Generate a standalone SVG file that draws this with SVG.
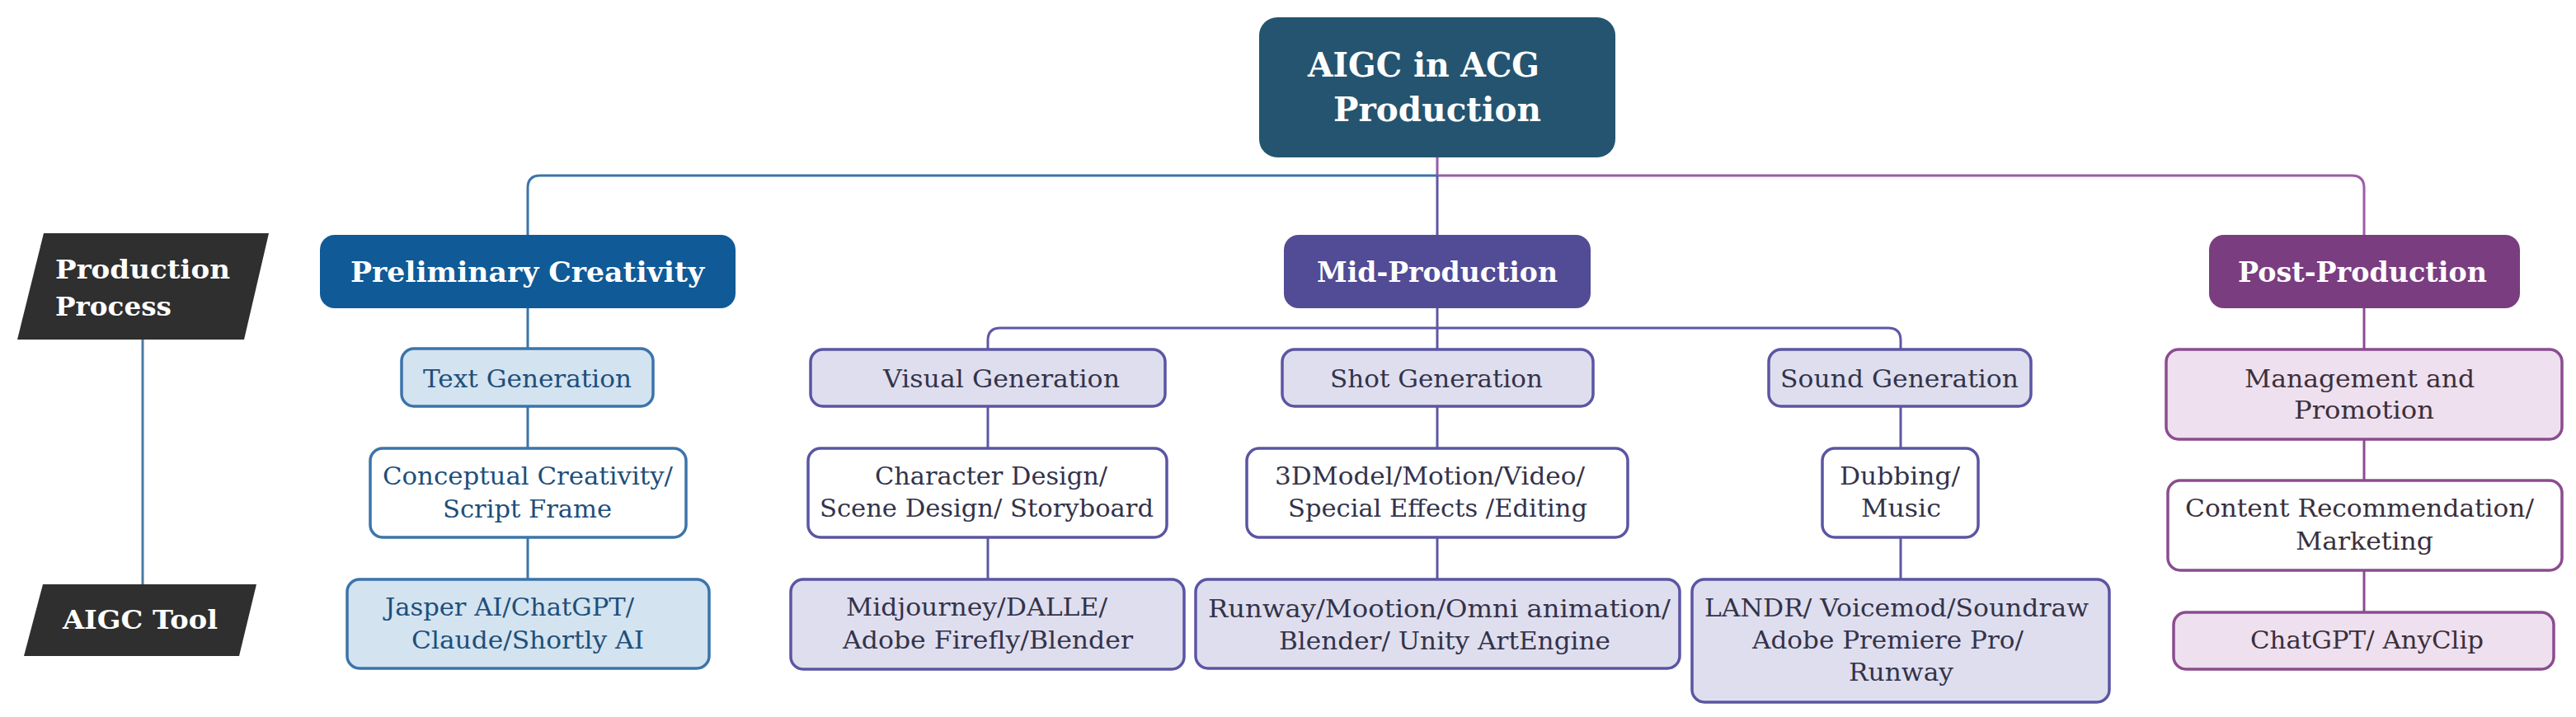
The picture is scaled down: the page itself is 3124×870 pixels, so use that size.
<svg xmlns="http://www.w3.org/2000/svg" width="3124" height="870" viewBox="0 0 3124 870">
<style>
text{font-family:"DejaVu Serif","Liberation Serif",serif;}
.h{font-weight:bold;fill:#ffffff;}
.t{font-size:30px;}
.hb{font-size:34px;}
.lb{font-size:32px;}
.cb{fill:none;stroke:#3b74ab;stroke-width:3;}
.cm{fill:none;stroke:#5e57a5;stroke-width:3;}
.cp{fill:none;stroke:#8b4c90;stroke-width:3;}
.nb{stroke:#3b74ab;stroke-width:3.5;}
.nm{stroke:#5b55a3;stroke-width:3.5;}
.np{stroke:#8b4c90;stroke-width:3.5;}
.lbf{fill:#d3e3f0;}
.lmf{fill:#dfdeee;}
.lpf{fill:#eee0ee;}
.w{fill:#ffffff;}
.tb{fill:#1e4f7a;}
.tm{fill:#33334a;}
.tp{fill:#3b2f3b;}
</style>
<rect width="3124" height="870" fill="#ffffff"/>
<g id="connectors">
<line x1="173" y1="412" x2="173" y2="709" stroke="#4a7aa6" stroke-width="3"/>
<line x1="1743" y1="191" x2="1743" y2="213" stroke="#9b5aa8" stroke-width="3"/>
<path class="cb" d="M640,285 V228 Q640,213 655,213 H1743"/>
<path fill="none" stroke="#9b5ca6" stroke-width="3" d="M1743,213 H2852 Q2867,213 2867,228 V285"/>
<line class="cm" x1="1743" y1="213" x2="1743" y2="285"/>
<line class="cb" x1="640" y1="374" x2="640" y2="423"/>
<line class="cb" x1="640" y1="493" x2="640" y2="544"/>
<line class="cb" x1="640" y1="652" x2="640" y2="703"/>
<line class="cm" x1="1743" y1="374" x2="1743" y2="424"/>
<path class="cm" d="M1198,424 V413 Q1198,398 1213,398 H2290 Q2305,398 2305,413 V424"/>
<line class="cm" x1="1198" y1="493" x2="1198" y2="544"/>
<line class="cm" x1="1198" y1="652" x2="1198" y2="703"/>
<line class="cm" x1="1743" y1="493" x2="1743" y2="544"/>
<line class="cm" x1="1743" y1="652" x2="1743" y2="703"/>
<line class="cm" x1="2305" y1="493" x2="2305" y2="544"/>
<line class="cm" x1="2305" y1="652" x2="2305" y2="703"/>
<line class="cp" x1="2867" y1="374" x2="2867" y2="424"/>
<line class="cp" x1="2867" y1="533" x2="2867" y2="583"/>
<line class="cp" x1="2867" y1="692" x2="2867" y2="743"/>
</g>
<g id="root">
<rect x="1527" y="21" width="432" height="170" rx="22" fill="#245470"/>
<text class="h" x="1586" y="93" font-size="41" textLength="281" lengthAdjust="spacingAndGlyphs">AIGC in ACG</text>
<text class="h" x="1617" y="147" font-size="41" textLength="252" lengthAdjust="spacingAndGlyphs">Production</text>
</g>
<g id="production-process">
<polygon points="53,283 326,283 296,412 21,412" fill="#2f2f2f"/>
<text class="h lb" x="67" y="338" textLength="212" lengthAdjust="spacingAndGlyphs">Production</text>
<text class="h lb" x="67" y="383" textLength="141" lengthAdjust="spacingAndGlyphs">Process</text>
</g>
<g id="aigc-tool">
<polygon points="52,709 311,709 290,796 29,796" fill="#2f2f2f"/>
<text class="h lb" x="76" y="763" textLength="188" lengthAdjust="spacingAndGlyphs">AIGC Tool</text>
</g>
<g id="preliminary">
<rect x="388" y="285" width="504" height="89" rx="18" fill="#0f5a97"/>
<text class="h hb" x="425" y="342" textLength="429" lengthAdjust="spacingAndGlyphs">Preliminary Creativity</text>
</g>
<g id="text-generation">
<rect class="nb lbf" x="487" y="423" width="305" height="70" rx="15"/>
<text class="t tb" x="513" y="470" textLength="253" lengthAdjust="spacingAndGlyphs">Text Generation</text>
</g>
<g id="conceptual">
<rect class="nb w" x="449" y="544" width="383" height="108" rx="15"/>
<text class="t tb" x="464" y="588" textLength="352" lengthAdjust="spacingAndGlyphs">Conceptual Creativity/</text>
<text class="t tb" x="537" y="628" textLength="205" lengthAdjust="spacingAndGlyphs">Script Frame</text>
</g>
<g id="jasper">
<rect class="nb lbf" x="421" y="703" width="439" height="108" rx="15"/>
<text class="t tb" x="467" y="747" textLength="302" lengthAdjust="spacingAndGlyphs">Jasper AI/ChatGPT/</text>
<text class="t tb" x="499" y="787" textLength="282" lengthAdjust="spacingAndGlyphs">Claude/Shortly AI</text>
</g>
<g id="mid-production">
<rect x="1557" y="285" width="372" height="89" rx="18" fill="#524b95"/>
<text class="h hb" x="1597" y="342" textLength="292" lengthAdjust="spacingAndGlyphs">Mid-Production</text>
</g>
<g id="visual-generation">
<rect class="nm lmf" x="983" y="424" width="430" height="69" rx="15"/>
<text class="t tm" x="1071" y="470" textLength="287" lengthAdjust="spacingAndGlyphs">Visual Generation</text>
</g>
<g id="shot-generation">
<rect class="nm lmf" x="1555" y="424" width="377" height="69" rx="15"/>
<text class="t tm" x="1613" y="470" textLength="258" lengthAdjust="spacingAndGlyphs">Shot Generation</text>
</g>
<g id="sound-generation">
<rect class="nm lmf" x="2145" y="424" width="318" height="69" rx="15"/>
<text class="t tm" x="2159" y="470" textLength="289" lengthAdjust="spacingAndGlyphs">Sound Generation</text>
</g>
<g id="character-design">
<rect class="nm w" x="980" y="544" width="435" height="108" rx="15"/>
<text class="t tm" x="1061" y="588" textLength="282" lengthAdjust="spacingAndGlyphs">Character Design/</text>
<text class="t tm" x="994" y="627" textLength="405" lengthAdjust="spacingAndGlyphs">Scene Design/ Storyboard</text>
</g>
<g id="model-motion">
<rect class="nm w" x="1512" y="544" width="462" height="108" rx="15"/>
<text class="t tm" x="1546" y="588" textLength="376" lengthAdjust="spacingAndGlyphs">3DModel/Motion/Video/</text>
<text class="t tm" x="1562" y="627" textLength="363" lengthAdjust="spacingAndGlyphs">Special Effects /Editing</text>
</g>
<g id="dubbing">
<rect class="nm w" x="2210" y="544" width="189" height="108" rx="15"/>
<text class="t tm" x="2231" y="588" textLength="146" lengthAdjust="spacingAndGlyphs">Dubbing/</text>
<text class="t tm" x="2257" y="627" textLength="97" lengthAdjust="spacingAndGlyphs">Music</text>
</g>
<g id="midjourney">
<rect class="nm lmf" x="959" y="703" width="477" height="109" rx="15"/>
<text class="t tm" x="1026" y="747" textLength="317" lengthAdjust="spacingAndGlyphs">Midjourney/DALLE/</text>
<text class="t tm" x="1022" y="787" textLength="352" lengthAdjust="spacingAndGlyphs">Adobe Firefly/Blender</text>
</g>
<g id="runway">
<rect class="nm lmf" x="1450" y="703" width="587" height="108" rx="15"/>
<text class="t tm" x="1465" y="749" textLength="561" lengthAdjust="spacingAndGlyphs">Runway/Mootion/Omni animation/</text>
<text class="t tm" x="1551" y="788" textLength="402" lengthAdjust="spacingAndGlyphs">Blender/ Unity ArtEngine</text>
</g>
<g id="landr">
<rect class="nm lmf" x="2052" y="703" width="506" height="149" rx="15"/>
<text class="t tm" x="2067" y="748" textLength="466" lengthAdjust="spacingAndGlyphs">LANDR/ Voicemod/Soundraw</text>
<text class="t tm" x="2125" y="787" textLength="329" lengthAdjust="spacingAndGlyphs">Adobe Premiere Pro/</text>
<text class="t tm" x="2242" y="826" textLength="127" lengthAdjust="spacingAndGlyphs">Runway</text>
</g>
<g id="post-production">
<rect x="2679" y="285" width="377" height="89" rx="18" fill="#7a3d80"/>
<text class="h hb" x="2714" y="342" textLength="302" lengthAdjust="spacingAndGlyphs">Post-Production</text>
</g>
<g id="management">
<rect class="np lpf" x="2627" y="424" width="480" height="109" rx="15"/>
<text class="t tp" x="2722" y="470" textLength="279" lengthAdjust="spacingAndGlyphs">Management and</text>
<text class="t tp" x="2782" y="508" textLength="170" lengthAdjust="spacingAndGlyphs">Promotion</text>
</g>
<g id="content-recommendation">
<rect class="np w" x="2629" y="583" width="478" height="109" rx="15"/>
<text class="t tp" x="2650" y="627" textLength="423" lengthAdjust="spacingAndGlyphs">Content Recommendation/</text>
<text class="t tp" x="2784" y="667" textLength="167" lengthAdjust="spacingAndGlyphs">Marketing</text>
</g>
<g id="chatgpt-anyclip">
<rect class="np lpf" x="2636" y="743" width="461" height="69" rx="15"/>
<text class="t tp" x="2729" y="787" textLength="283" lengthAdjust="spacingAndGlyphs">ChatGPT/ AnyClip</text>
</g>
</svg>
